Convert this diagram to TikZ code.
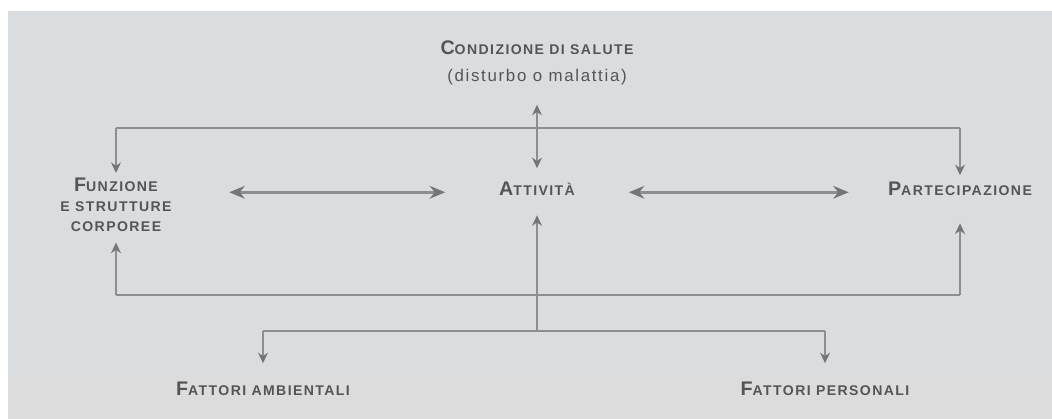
\documentclass[tikz,border=0pt]{standalone}
\usepackage{fontspec}
\setmainfont{Liberation Sans}
\newfontfamily\spaziato[LetterSpace=10]{Liberation Sans}
\usetikzlibrary{arrows.meta}

\definecolor{fondo}{HTML}{D9DDE0}
\definecolor{fondobasso}{HTML}{DCDCDC}
\definecolor{grigiolinea}{HTML}{8E8E8E}
\definecolor{grigiopunta}{HTML}{757575}
\definecolor{grigiotesto}{HTML}{555555}

% one big capital, the rest in (fake) small caps
\newcommand{\maiu}[2]{{\fontsize{14}{16}\selectfont #1}\MakeUppercase{#2}}
\newlength{\px}
\setlength{\px}{0.025cm}

\begin{document}
\begin{tikzpicture}[x=0.025cm,y=-0.025cm]
\tikzset{voce/.style={inner sep=0pt, text=grigiotesto, font=\spaziato\bfseries\fontsize{10}{14}\selectfont},
  nota/.style={inner sep=0pt, text=grigiotesto, font=\spaziato\fontsize{12}{14}\selectfont},
  linea/.style={draw=grigiolinea, line width=1.2pt},
  punta/.style={Stealth[length=7.5pt, width=7pt, color=grigiopunta]},
  freccia/.style={linea, -{Stealth[length=7.5pt, width=7pt, color=grigiopunta]}},
  doppia/.style={draw=grigiolinea, line width=2.2pt, {Stealth[length=11pt, width=9pt, color=grigiopunta]}-{Stealth[length=11pt, width=9pt, color=grigiopunta]}}}
\useasboundingbox (0,0) rectangle (1052,419);
\fill[fondo] (8,11) rectangle (1052,419);
\fill[fondobasso] (8,377) rectangle (1052,419);

\node[voce, anchor=base] (cond) at (537,55) {\maiu{C}{ondizione di salute}};
\node[nota, anchor=base] (dis) at (537,82) {(disturbo o malattia)};
\node[voce, anchor=north, align=center, minimum width=226\px] (fun) at (116,178) {\maiu{F}{unzione}\\ \maiu{}{e strutture}\\ \maiu{}{corporee}};
\node[voce, anchor=base, minimum width=183\px] (act) at (537,196) {\maiu{A}{ttività}};
\node[voce, anchor=base, minimum width=222\px] (par) at (960,196) {\maiu{P}{artecipazione}};
\node[voce, anchor=base] (amb) at (263,395) {\maiu{F}{attori ambientali}};
\node[voce, anchor=base] (per) at (825,395) {\maiu{F}{attori personali}};

\coordinate (alto sx) at (116,128);
\coordinate (alto dx) at (960,128);
\coordinate (basso sx) at (116,295);
\coordinate (basso dx) at (960,295);
\coordinate (fa sx) at (263,331);
\coordinate (fa c) at (537,331);
\coordinate (fa dx) at (825,331);

% condizione di salute
\draw[linea] (alto sx) -- (alto dx);
\draw[freccia] (alto sx) -- (fun.north) [shorten >=5\px];
\draw[freccia] (alto dx) -- (par.north) [shorten >=7\px];
\draw[linea, {Stealth[length=7.5pt, width=7pt, color=grigiopunta]}-{Stealth[length=7.5pt, width=7pt, color=grigiopunta]}, shorten <=19\px, shorten >=14\px] (dis.south) -- (act.north);
% tra le componenti
\draw[doppia] (fun.east |- act.mid) -- (act.mid west);
\draw[doppia] (act.mid east) -- (act.mid east -| par.west);
% fattori contestuali
\draw[linea] (basso sx) -- (basso dx);
\draw[freccia, shorten >=11\px] (basso sx) -- (fun.south);
\draw[freccia, shorten >=27\px] (basso dx) -- (par.south);
\draw[freccia, shorten >=19\px] (fa c) -- (act.south);
\draw[linea] (fa sx) -- (fa dx);
\draw[freccia, shorten >=18\px] (fa sx) -- (amb.north);
\draw[freccia, shorten >=18\px] (fa dx) -- (per.north);
\end{tikzpicture}
\end{document}
